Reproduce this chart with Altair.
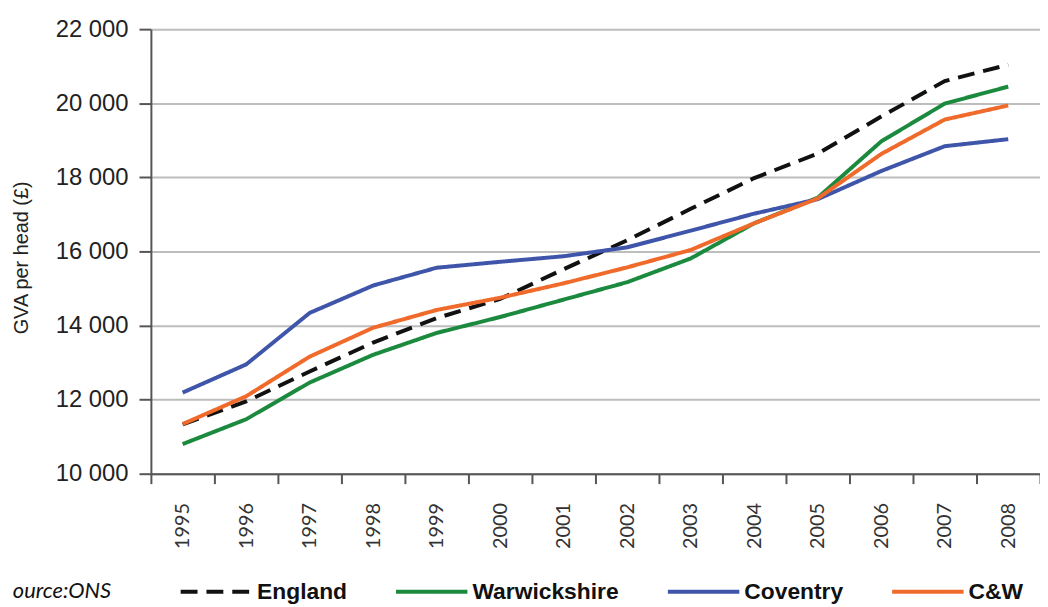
import altair as alt
import pandas as pd

years = list(range(1995, 2009))
england = [11330, 11950, 12760, 13540, 14200, 14720, 15520, 16300, 17150, 17980, 18640, 19640, 20600, 21040]
warwickshire = [10800, 11470, 12460, 13210, 13800, 14230, 14700, 15170, 15810, 16760, 17450, 18970, 19990, 20450]
coventry = [12190, 12950, 14340, 15080, 15560, 15720, 15870, 16110, 16560, 17020, 17410, 18170, 18840, 19030]
cw = [11340, 12090, 13160, 13940, 14420, 14750, 15140, 15570, 16040, 16760, 17430, 18630, 19560, 19940]

series_names = ["England", "Warwickshire", "Coventry", "C&W"]
series_colors = ["#111111", "#1c8a3e", "#3f55aa", "#f06a2b"]
series_dash = [[17, 9], [1, 0], [1, 0], [1, 0]]
y_ticks = [10000, 12000, 14000, 16000, 18000, 20000, 22000]
source_text = "ource:ONS"

rows = []
for name, vals in zip(series_names, [england, warwickshire, coventry, cw]):
    for yr, v in zip(years, vals):
        rows.append({"year": yr, "value": v, "series": name})
df = pd.DataFrame(rows)

lines = alt.Chart(df).mark_line(strokeWidth=4).encode(
    x=alt.X(
        "year:O",
        bandPosition=0.5,
        scale=alt.Scale(type="band", paddingInner=0, paddingOuter=0),
        axis=alt.Axis(
            title=None,
            tickBand="extent",
            labelAngle=-90,
            labelFont="Lato",
            labelFontSize=20,
            labelColor="#333333",
            labelPadding=19,
            tickSize=10,
            tickWidth=2,
            tickColor="#555555",
            domainColor="#555555",
            domainWidth=2,
            grid=False,
        ),
    ),
    y=alt.Y(
        "value:Q",
        scale=alt.Scale(domain=[10000, 22000], nice=False, zero=False),
        axis=alt.Axis(
            values=y_ticks,
            labelExpr="replace(format(datum.value, ','), ',', ' ')",
            title="GVA per head (£)",
            titleFont="Liberation Sans",
            titleFontSize=20,
            titleFontWeight="normal",
            titleColor="#222222",
            titleX=-130,
            titleY=230,
            titleAngle=-90,
            titleAlign="center",
            titleBaseline="middle",
            labelFont="Liberation Sans Narrow, Arial Narrow, Liberation Sans",
            labelFontSize=24,
            labelColor="#222222",
            labelPadding=11,
            tickSize=12,
            tickWidth=2,
            tickColor="#555555",
            domainColor="#555555",
            domainWidth=2,
            grid=True,
            gridColor="#bdbdbd",
            gridWidth=2,
        ),
    ),
    color=alt.Color(
        "series:N",
        title=None,
        scale=alt.Scale(domain=series_names, range=series_colors),
        sort=series_names,
    ),
    strokeDash=alt.StrokeDash(
        "series:N",
        title=None,
        scale=alt.Scale(domain=series_names, range=series_dash),
        sort=series_names,
    ),
)

src = alt.Chart(pd.DataFrame({"t": [source_text]})).mark_text(
    font="Lato",
    fontStyle="italic",
    fontSize=22,
    align="right",
    baseline="middle",
    color="#111111",
).encode(text="t:N", x=alt.value(-40), y=alt.value(566))

chart = alt.layer(lines, src).properties(
    width=896,
    height=448,
    autosize=alt.AutoSizeParams(type="none"),
    padding={"left": 144, "top": 19, "right": 0, "bottom": 130},
).configure_view(stroke=None).configure_legend(
    orient="none",
    legendX=28,
    legendY=529,
    direction="horizontal",
    padding=0,
    symbolType="stroke",
    symbolSize=5184,
    symbolStrokeWidth=4,
    labelFont="Liberation Sans Narrow, Arial Narrow, Liberation Sans",
    labelFontWeight="bold",
    labelFontSize=23,
    labelColor="#111111",
    labelOffset=3,
    columnPadding=41,
    labelLimit=300,
)

chart.save("out.html", embed_options={"renderer": "svg", "actions": False})
